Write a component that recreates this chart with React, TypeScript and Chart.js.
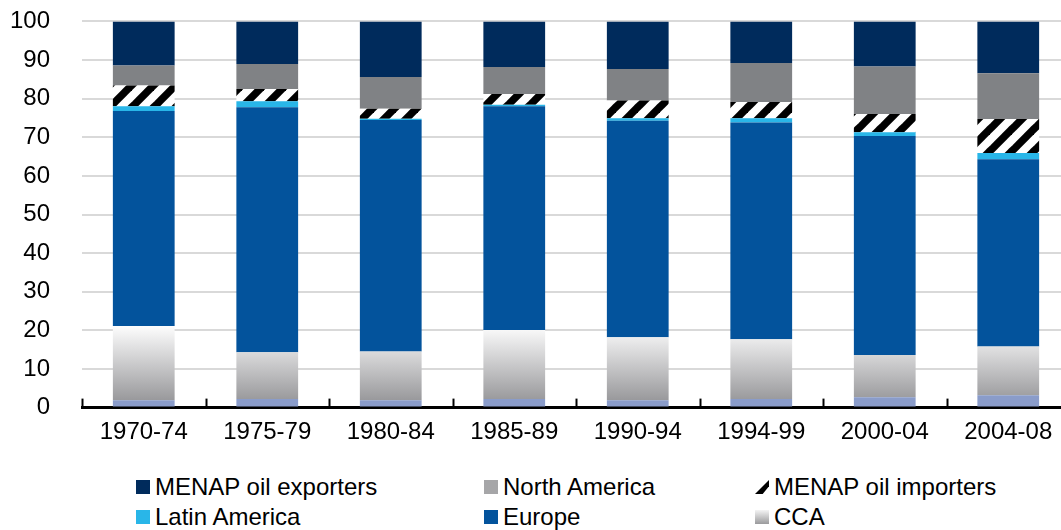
import React, { useEffect, useRef } from 'react';
import { Chart, registerables } from 'chart.js';

Chart.register(...registerables);

const categories = ['1970-74', '1975-79', '1980-84', '1985-89', '1990-94', '1994-99', '2000-04', '2004-08'];
const otherValues = [1.9, 2.2, 1.9, 2.2, 1.9, 2.2, 2.7, 3.2];
const ccaValues = [19.2, 12.1, 12.6, 17.9, 16.3, 15.5, 10.9, 12.6];
const europeValues = [55.7, 63.5, 60.0, 57.9, 56.1, 56.1, 56.7, 48.5];
const latinAmericaValues = [1.2, 1.5, 0.3, 0.4, 0.6, 1.1, 1.0, 1.6];
const menapImportersValues = [5.4, 3.2, 2.6, 2.8, 4.6, 4.2, 4.7, 8.8];
const northAmericaValues = [5.2, 6.5, 8.2, 7.0, 8.2, 10.1, 12.3, 11.9];
const menapExportersValues = [11.4, 11.0, 14.4, 11.8, 12.3, 10.8, 11.7, 13.4];

const Y_MIN = 0;
const Y_MAX = 100;
const Y_STEP = 10;

const FONT = '"Liberation Sans", Arial, Helvetica, sans-serif';

const COLORS = {
  exporters: '#002B5C',
  northAmerica: '#808285',
  northAmericaLegend: '#a6a6a8',
  latin: '#29B6E8',
  europe: '#03539C',
  other: '#8A9CCA',
};

type LegendItem = { label: string; kind: string; left: number; top: number };
const legendItems: LegendItem[] = [
  { label: 'MENAP oil exporters', kind: 'exporters', left: 136, top: 472 },
  { label: 'North America', kind: 'northAmerica', left: 484, top: 472 },
  { label: 'MENAP oil importers', kind: 'hatch', left: 755, top: 472 },
  { label: 'Latin America', kind: 'latin', left: 136, top: 502 },
  { label: 'Europe', kind: 'europe', left: 484, top: 502 },
  { label: 'CCA', kind: 'cca', left: 755, top: 502 },
];

function makeHatch(): CanvasPattern | string {
  const P = 22;
  const c = document.createElement('canvas');
  c.width = P;
  c.height = P;
  const g = c.getContext('2d');
  if (!g) return '#000';
  g.fillStyle = '#ffffff';
  g.fillRect(0, 0, P, P);
  g.strokeStyle = '#000000';
  g.lineWidth = 7.6;
  g.lineCap = 'square';
  for (let k = -1; k <= 1; k++) {
    g.beginPath();
    g.moveTo(k * P, P);
    g.lineTo(k * P + P, 0);
    g.stroke();
  }
  const pat = g.createPattern(c, 'repeat');
  return pat || '#000';
}

const boundaryTicks = {
  id: 'boundaryTicks',
  afterDatasetsDraw(chart: any) {
    const x = chart.scales.x;
    const { ctx, chartArea } = chart;
    ctx.save();
    ctx.strokeStyle = '#000';
    ctx.lineWidth = 2;
    for (let i = 0; i <= categories.length; i++) {
      const px = Math.round(x.getPixelForValue(i - 0.5)) + 0.5;
      ctx.beginPath();
      ctx.moveTo(px, chartArea.bottom);
      ctx.lineTo(px, chartArea.bottom - 9);
      ctx.stroke();
    }
    ctx.restore();
  },
};

export default function App() {
  const ref = useRef<HTMLCanvasElement | null>(null);

  useEffect(() => {
    if (!ref.current) return;
    Chart.defaults.font.family = FONT;
    const hatch = makeHatch();
    const ccaFill = (ctx: any) => {
      const chart = ctx.chart;
      const { chartArea, scales } = chart;
      if (!chartArea) return '#c0c0c2';
      const g = chart.ctx.createLinearGradient(0, scales.y.getPixelForValue(21.5), 0, scales.y.getPixelForValue(0));
      g.addColorStop(0, '#ffffff');
      g.addColorStop(1, '#8f8f92');
      return g;
    };
    const common = { borderWidth: 0, barPercentage: 0.5, categoryPercentage: 1 };
    const chart = new Chart(ref.current, {
      type: 'bar',
      data: {
        labels: categories,
        datasets: [
          { label: 'Other', data: otherValues, backgroundColor: COLORS.other, ...common },
          { label: 'CCA', data: ccaValues, backgroundColor: ccaFill, ...common },
          { label: 'Europe', data: europeValues, backgroundColor: COLORS.europe, ...common },
          { label: 'Latin America', data: latinAmericaValues, backgroundColor: COLORS.latin, ...common },
          { label: 'MENAP oil importers', data: menapImportersValues, backgroundColor: hatch as any, ...common },
          { label: 'North America', data: northAmericaValues, backgroundColor: COLORS.northAmerica, ...common },
          { label: 'MENAP oil exporters', data: menapExportersValues, backgroundColor: COLORS.exporters, ...common },
        ],
      },
      options: {
        responsive: false,
        animation: false,
        devicePixelRatio: 1,
        layout: { padding: { top: 20, left: 0, right: 0, bottom: 0 } },
        plugins: { legend: { display: false }, tooltip: { enabled: false } },
        scales: {
          x: {
            stacked: true,
            grid: { display: false, drawTicks: false },
            border: { display: true, color: '#000', width: 3 },
            ticks: { color: '#000', font: { size: 24, family: FONT }, padding: 10, maxRotation: 0, autoSkip: false },
            afterFit: (s: any) => { s.height = 44; },
          },
          y: {
            stacked: true,
            min: Y_MIN,
            max: Y_MAX,
            ticks: { stepSize: Y_STEP, color: '#000', font: { size: 24, family: FONT }, padding: 32 },
            grid: { color: '#d9d9d9', lineWidth: 2, drawTicks: false },
            border: { display: false },
            afterFit: (s: any) => { s.width = 82; },
          },
        },
      },
      plugins: [boundaryTicks],
    });
    return () => chart.destroy();
  }, []);

  const swatch = (kind: string): React.CSSProperties => {
    const base: React.CSSProperties = { position: 'absolute', left: 0, top: 8, width: 14, height: 14 };
    switch (kind) {
      case 'exporters': return { ...base, background: COLORS.exporters };
      case 'northAmerica': return { ...base, background: COLORS.northAmericaLegend };
      case 'latin': return { ...base, background: COLORS.latin };
      case 'europe': return { ...base, background: COLORS.europe };
      case 'cca': return { ...base, background: 'linear-gradient(#f4f4f4, #9a9a9c)' };
      case 'hatch': return { ...base, background: '#000', clipPath: 'polygon(0% 100%, 100% 0%, 100% 45%, 55% 100%)' };
      default: return base;
    }
  };

  return (
    <div style={{ position: 'fixed', left: 0, top: 0, width: 1061, height: 530, overflow: 'hidden', background: '#fff' }}>
      <canvas ref={ref} width={1070} height={479} style={{ position: 'absolute', left: 0, top: -25, width: 1070, height: 479 }} />
      {legendItems.map((it) => (
        <div key={it.label} style={{ position: 'absolute', left: it.left, top: it.top, height: 30, whiteSpace: 'nowrap', fontFamily: FONT, fontSize: 24, lineHeight: '30px', color: '#000' }}>
          <span style={swatch(it.kind)} />
          <span style={{ marginLeft: 19 }}>{it.label}</span>
        </div>
      ))}
    </div>
  );
}
